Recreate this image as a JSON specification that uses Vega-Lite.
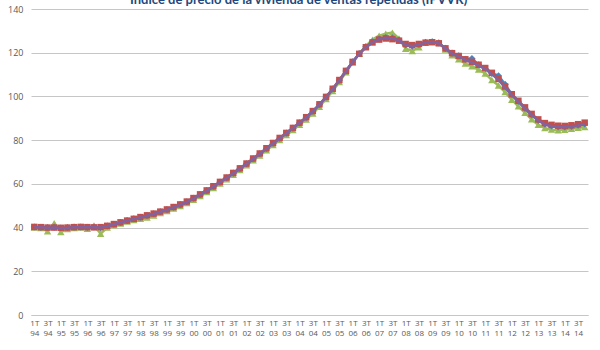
{
  "$schema": "https://vega.github.io/schema/vega-lite/v6.json",
  "width": 557,
  "height": 306,
  "autosize": {"type": "none"},
  "padding": {"left": 31, "top": 9, "right": 12, "bottom": 35},
  "background": "white",
  "title": {"text": "Índice de precio de la vivienda de ventas repetidas (IPVVR)", "fontSize": 13, "font": "Lato", "fontWeight": "bold", "color": "#1F497D", "anchor": "middle", "frame": "bounds", "offset": 2, "dy": 4},
  "config": {
    "view": {"stroke": null},
    "axisY": {"title": null, "grid": true, "gridColor": "#c6c6c6", "domain": false, "ticks": false, "labelPadding": 8, "labelFontSize": 9, "labelColor": "#595959", "labelFont": "Open Sans", "tickCount": 7}
  },
  "data": {"values": [
    {"p":"1T 94","s1":40.3,"s2":40.3,"s3":40.0,"s4":40.2},
    {"p":"2T 94","s1":40.1,"s2":40.2,"s3":39.8,"s4":40.1},
    {"p":"3T 94","s1":40.0,"s2":40.0,"s3":38.3,"s4":39.9},
    {"p":"4T 94","s1":40.2,"s2":40.0,"s3":42.0,"s4":40.0},
    {"p":"1T 95","s1":39.8,"s2":39.9,"s3":38.0,"s4":39.8},
    {"p":"2T 95","s1":40.0,"s2":40.0,"s3":39.3,"s4":39.9},
    {"p":"3T 95","s1":40.2,"s2":40.2,"s3":39.8,"s4":40.1},
    {"p":"4T 95","s1":40.3,"s2":40.3,"s3":40.0,"s4":40.2},
    {"p":"1T 96","s1":40.1,"s2":40.2,"s3":39.5,"s4":40.1},
    {"p":"2T 96","s1":40.3,"s2":40.1,"s3":41.0,"s4":40.1},
    {"p":"3T 96","s1":39.9,"s2":40.2,"s3":37.2,"s4":40.0},
    {"p":"4T 96","s1":40.7,"s2":40.8,"s3":40.0,"s4":40.6},
    {"p":"1T 97","s1":41.5,"s2":41.6,"s3":41.0,"s4":41.5},
    {"p":"2T 97","s1":42.3,"s2":42.4,"s3":41.9,"s4":42.3},
    {"p":"3T 97","s1":43.2,"s2":43.2,"s3":42.8,"s4":43.1},
    {"p":"4T 97","s1":44.0,"s2":44.0,"s3":43.5,"s4":43.9},
    {"p":"1T 98","s1":44.7,"s2":44.8,"s3":44.0,"s4":44.6},
    {"p":"2T 98","s1":45.5,"s2":45.6,"s3":44.6,"s4":45.4},
    {"p":"3T 98","s1":46.3,"s2":46.4,"s3":45.5,"s4":46.2},
    {"p":"4T 98","s1":47.2,"s2":47.3,"s3":46.6,"s4":47.1},
    {"p":"1T 99","s1":48.2,"s2":48.3,"s3":47.6,"s4":48.1},
    {"p":"2T 99","s1":49.3,"s2":49.4,"s3":48.7,"s4":49.2},
    {"p":"3T 99","s1":50.5,"s2":50.6,"s3":49.9,"s4":50.4},
    {"p":"4T 99","s1":51.8,"s2":51.9,"s3":51.2,"s4":51.7},
    {"p":"1T 00","s1":53.4,"s2":53.5,"s3":52.7,"s4":53.3},
    {"p":"2T 00","s1":55.1,"s2":55.2,"s3":54.4,"s4":55.0},
    {"p":"3T 00","s1":56.9,"s2":57.0,"s3":56.2,"s4":56.8},
    {"p":"4T 00","s1":58.8,"s2":58.9,"s3":58.1,"s4":58.7},
    {"p":"1T 01","s1":60.8,"s2":60.9,"s3":60.1,"s4":60.7},
    {"p":"2T 01","s1":62.8,"s2":62.9,"s3":62.1,"s4":62.7},
    {"p":"3T 01","s1":64.9,"s2":65.0,"s3":64.2,"s4":64.8},
    {"p":"4T 01","s1":67.0,"s2":67.1,"s3":66.3,"s4":66.9},
    {"p":"1T 02","s1":69.2,"s2":69.3,"s3":68.5,"s4":69.1},
    {"p":"2T 02","s1":71.5,"s2":71.6,"s3":70.8,"s4":71.4},
    {"p":"3T 02","s1":73.8,"s2":73.9,"s3":73.0,"s4":73.7},
    {"p":"4T 02","s1":76.2,"s2":76.3,"s3":75.4,"s4":76.1},
    {"p":"1T 03","s1":78.6,"s2":78.7,"s3":77.8,"s4":78.5},
    {"p":"2T 03","s1":80.9,"s2":81.0,"s3":80.1,"s4":80.8},
    {"p":"3T 03","s1":83.2,"s2":83.3,"s3":82.3,"s4":83.1},
    {"p":"4T 03","s1":85.5,"s2":85.6,"s3":84.6,"s4":85.4},
    {"p":"1T 04","s1":87.9,"s2":88.0,"s3":87.0,"s4":87.8},
    {"p":"2T 04","s1":90.4,"s2":90.5,"s3":89.4,"s4":90.3},
    {"p":"3T 04","s1":93.2,"s2":93.3,"s3":92.2,"s4":93.1},
    {"p":"4T 04","s1":96.3,"s2":96.4,"s3":95.3,"s4":96.2},
    {"p":"1T 05","s1":99.7,"s2":99.8,"s3":98.8,"s4":99.6},
    {"p":"2T 05","s1":103.4,"s2":103.5,"s3":102.5,"s4":103.3},
    {"p":"3T 05","s1":107.4,"s2":107.5,"s3":106.6,"s4":107.3},
    {"p":"4T 05","s1":111.6,"s2":111.7,"s3":111.0,"s4":111.5},
    {"p":"1T 06","s1":115.8,"s2":115.8,"s3":115.5,"s4":115.7},
    {"p":"2T 06","s1":119.6,"s2":119.5,"s3":119.5,"s4":119.4},
    {"p":"3T 06","s1":122.7,"s2":122.5,"s3":123.0,"s4":122.5},
    {"p":"4T 06","s1":125.0,"s2":124.7,"s3":126.0,"s4":124.8},
    {"p":"1T 07","s1":126.4,"s2":126.0,"s3":127.8,"s4":126.2},
    {"p":"2T 07","s1":127.0,"s2":126.5,"s3":128.7,"s4":126.8},
    {"p":"3T 07","s1":126.8,"s2":126.2,"s3":129.2,"s4":126.6},
    {"p":"4T 07","s1":125.8,"s2":125.5,"s3":126.5,"s4":125.6},
    {"p":"1T 08","s1":123.5,"s2":124.0,"s3":121.8,"s4":123.5},
    {"p":"2T 08","s1":123.0,"s2":123.5,"s3":120.8,"s4":123.0},
    {"p":"3T 08","s1":123.8,"s2":124.0,"s3":122.5,"s4":123.7},
    {"p":"4T 08","s1":124.8,"s2":124.6,"s3":124.8,"s4":124.6},
    {"p":"1T 09","s1":125.0,"s2":124.8,"s3":125.2,"s4":124.9},
    {"p":"2T 09","s1":124.5,"s2":124.3,"s3":124.5,"s4":124.3},
    {"p":"3T 09","s1":122.0,"s2":122.0,"s3":121.5,"s4":121.9},
    {"p":"4T 09","s1":119.8,"s2":119.8,"s3":118.8,"s4":119.6},
    {"p":"1T 10","s1":118.6,"s2":118.5,"s3":117.0,"s4":118.2},
    {"p":"2T 10","s1":117.0,"s2":117.0,"s3":115.0,"s4":116.7},
    {"p":"3T 10","s1":117.3,"s2":115.8,"s3":113.8,"s4":115.5},
    {"p":"4T 10","s1":114.5,"s2":114.5,"s3":112.3,"s4":114.1},
    {"p":"1T 11","s1":112.8,"s2":113.0,"s3":110.5,"s4":112.5},
    {"p":"2T 11","s1":110.5,"s2":110.8,"s3":107.5,"s4":110.2},
    {"p":"3T 11","s1":109.5,"s2":108.0,"s3":105.0,"s4":107.5},
    {"p":"4T 11","s1":105.5,"s2":104.5,"s3":102.0,"s4":104.0},
    {"p":"1T 12","s1":101.0,"s2":101.0,"s3":98.5,"s4":100.5},
    {"p":"2T 12","s1":97.8,"s2":98.0,"s3":95.5,"s4":97.5},
    {"p":"3T 12","s1":94.5,"s2":95.0,"s3":92.5,"s4":94.4},
    {"p":"4T 12","s1":91.5,"s2":92.0,"s3":89.5,"s4":91.4},
    {"p":"1T 13","s1":89.0,"s2":89.5,"s3":87.0,"s4":89.0},
    {"p":"2T 13","s1":87.3,"s2":87.8,"s3":85.5,"s4":87.2},
    {"p":"3T 13","s1":86.5,"s2":87.0,"s3":84.8,"s4":86.4},
    {"p":"4T 13","s1":86.0,"s2":86.6,"s3":84.5,"s4":86.0},
    {"p":"1T 14","s1":86.0,"s2":86.5,"s3":84.7,"s4":85.9},
    {"p":"2T 14","s1":86.3,"s2":86.8,"s3":85.2,"s4":86.2},
    {"p":"3T 14","s1":86.8,"s2":87.3,"s3":85.6,"s4":86.7},
    {"p":"4T 14","s1":87.4,"s2":88.0,"s3":86.0,"s4":87.3}
  ]},
  "encoding": {
    "x": {"field": "p", "type": "ordinal", "sort": null, "scale": {"type": "point", "padding": 0.5},
      "axis": {"title": null, "labelAngle": 0, "ticks": false, "domain": true, "domainColor": "#c6c6c6", "grid": false,
        "labelExpr": "indexof(datum.value,'1T')==0 || indexof(datum.value,'3T')==0 ? split(datum.value,' ') : ''",
        "labelFontSize": 8, "labelColor": "#595959", "labelFont": "Open Sans", "labelLineHeight": 10, "labelPadding": 4, "labelOverlap": false, "labelBound": false, "labelFlush": false}}
  },
  "layer": [
    {"mark": {"type": "line", "color": "#9BBB59", "strokeWidth": 2.5, "point": {"shape": "triangle-up", "size": 55, "filled": true, "color": "#9BBB59"}},
     "encoding": {"y": {"field": "s3", "type": "quantitative", "scale": {"domain": [0, 140], "nice": false}, "axis": {"title": null}}}},
    {"mark": {"type": "line", "color": "#4F81BD", "strokeWidth": 2.5, "point": {"shape": "diamond", "size": 50, "filled": true, "color": "#4F81BD"}},
     "encoding": {"y": {"field": "s1", "type": "quantitative", "scale": {"domain": [0, 140], "nice": false}, "axis": {"title": null}}}},
    {"mark": {"type": "line", "color": "#C0504D", "strokeWidth": 2.5, "point": {"shape": "square", "size": 42, "filled": true, "color": "#C0504D"}},
     "encoding": {"y": {"field": "s2", "type": "quantitative", "scale": {"domain": [0, 140], "nice": false}, "axis": {"title": null}}}},
    {"mark": {"type": "line", "color": "#8064A2", "strokeWidth": 2.5},
     "encoding": {"y": {"field": "s4", "type": "quantitative", "scale": {"domain": [0, 140], "nice": false}, "axis": {"title": null}}}}
  ]
}
